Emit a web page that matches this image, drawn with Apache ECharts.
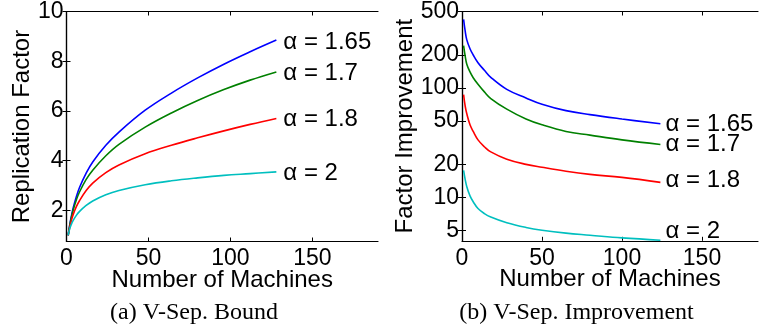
<!DOCTYPE html>
<html><head><meta charset="utf-8">
<script src="https://cdn.jsdelivr.net/npm/echarts@6/dist/echarts.min.js"></script>
<style>html,body{margin:0;padding:0;background:#fff}#c{width:759px;height:332px}</style>
</head><body><div id="c"></div>
<script>
// ---- data ----
const machinesA = [1, 2, 3, 4, 6, 8, 12, 16, 24, 32, 48, 64, 80, 96, 112, 128];
const repAlpha165 = [1.0, 1.43, 1.78, 2.08, 2.55, 2.93, 3.5, 3.95, 4.62, 5.15, 6.03, 6.72, 7.33, 7.88, 8.38, 8.85];
const repAlpha17  = [1.0, 1.4, 1.72, 2.0, 2.42, 2.75, 3.25, 3.62, 4.2, 4.66, 5.35, 5.92, 6.42, 6.86, 7.24, 7.57];
const repAlpha18  = [1.0, 1.33, 1.6, 1.82, 2.15, 2.4, 2.8, 3.1, 3.52, 3.83, 4.28, 4.62, 4.92, 5.2, 5.46, 5.70];
const repAlpha2   = [1.0, 1.27, 1.45, 1.59, 1.8, 1.96, 2.2, 2.38, 2.63, 2.8, 3.03, 3.19, 3.31, 3.41, 3.48, 3.55];

const machinesB = [1, 2, 3, 5, 7, 10, 14, 18, 28, 40, 50, 65, 80, 100, 124];
const impAlpha165 = [424, 330, 275, 228, 200, 170, 145, 125, 97, 81, 71, 62, 57, 52, 47];
const impAlpha17  = [244, 195, 165, 140, 124, 108, 92, 80, 64, 52, 46, 40, 37, 33.5, 30.4];
const impAlpha18  = [87, 68, 58, 46, 40, 33.5, 29, 26, 22.3, 20, 18.8, 17.3, 16.2, 15.2, 13.7];
const impAlpha2   = [17.6, 14.5, 12.5, 10.3, 9.1, 7.9, 7.1, 6.6, 5.85, 5.3, 5.0, 4.7, 4.5, 4.25, 4.05];

const alphaLabels = ['α = 1.65', 'α = 1.7', 'α = 1.8', 'α = 2'];
const xTickValues = [0, 50, 100, 150];
const yTicksA = [2, 4, 6, 8, 10];
const yTicksB = [5, 10, 20, 50, 100, 200, 500];
const xName = 'Number of Machines';
const yNameA = 'Replication Factor';
const yNameB = 'Factor Improvement';
const captions = ['(a) V-Sep. Bound', '(b) V-Sep. Improvement'];

// ---- chart ----
const colors = ['#0000ff', '#008000', '#ff0000', '#00bfbf'];
const SANS = 'Liberation Sans, Arial, sans-serif';
const SERIF = 'Liberation Serif, Times New Roman, serif';
const zip = (xs, ys) => xs.map((x, i) => [x, ys[i]]);

const lineAxis = {show: true, lineStyle: {color: '#000', width: 1.2}};
function xAx(grid, max, pos, labels) {
  return {
    type: 'value', gridIndex: grid, position: pos, min: 0, max: max,
    axisLine: lineAxis,
    axisTick: {show: true, inside: true, length: 4, customValues: xTickValues, lineStyle: {color: '#000', width: 1}},
    axisLabel: {show: labels, customValues: xTickValues, color: '#000', fontSize: 23, fontFamily: SANS, margin: 6},
    splitLine: {show: false},
    name: labels ? xName : '', nameLocation: 'middle', nameGap: 27, nameMoveOverlap: false,
    nameTextStyle: {color: '#000', fontSize: 24, fontFamily: SANS}
  };
}
function yAx(grid, type, min, max, ticks, pos, labels, name, gap) {
  return {
    type: type, gridIndex: grid, position: pos, min: min, max: max,
    axisLine: lineAxis,
    axisTick: {show: true, inside: true, length: 4, customValues: ticks, lineStyle: {color: '#000', width: 1}},
    axisLabel: {show: labels, customValues: ticks, color: '#000', fontSize: 23, fontFamily: SANS, margin: 3},
    splitLine: {show: false},
    name: labels ? name : '', nameLocation: 'middle', nameGap: gap, nameMoveOverlap: false,
    nameTextStyle: {color: '#000', fontSize: 24, fontFamily: SANS}
  };
}

const seriesA = [repAlpha165, repAlpha17, repAlpha18, repAlpha2];
const seriesB = [impAlpha165, impAlpha17, impAlpha18, impAlpha2];
const offA = [[0, 2], [0, 1], [0, 1], [0, 1]];
const offB = [[0, 1], [0, 0], [0, -2], [0, -9]];

const series = [];
seriesA.forEach((ys, i) => series.push({
  type: 'line', xAxisIndex: 0, yAxisIndex: 0, data: zip(machinesA, ys),
  smooth: 0.4, showSymbol: false, symbol: 'none',
  lineStyle: {color: colors[i], width: 1.6}, itemStyle: {color: colors[i]},
  endLabel: {show: true, formatter: alphaLabels[i], color: '#000', fontSize: 24, fontFamily: SANS, distance: 7, offset: offA[i]},
  animation: false
}));
seriesB.forEach((ys, i) => series.push({
  type: 'line', xAxisIndex: 2, yAxisIndex: 2, data: zip(machinesB, ys),
  smooth: 0.4, showSymbol: false, symbol: 'none',
  lineStyle: {color: colors[i], width: 1.6}, itemStyle: {color: colors[i]},
  endLabel: {show: true, formatter: alphaLabels[i], color: '#000', fontSize: 24, fontFamily: SANS, distance: 5, offset: offB[i]},
  animation: false
}));

const chart = echarts.init(document.getElementById('c'), null, {renderer: 'canvas'});
chart.setOption({
  animation: false,
  backgroundColor: '#fff',
  grid: [
    {left: 66.5, top: 7.5, width: 311.5, height: 234},
    {left: 462, top: 7.3, width: 296, height: 233.5}
  ],
  xAxis: [
    xAx(0, 190, 'bottom', true), xAx(0, 190, 'top', false),
    xAx(1, 185, 'bottom', true), xAx(1, 185, 'top', false)
  ],
  yAxis: [
    yAx(0, 'value', 0.75, 10, yTicksA, 'left', true, yNameA, 32),
    yAx(0, 'value', 0.75, 10, yTicksA, 'right', false, '', 0),
    yAx(1, 'log', 4, 500, yTicksB, 'left', true, yNameB, 45),
    yAx(1, 'log', 4, 500, yTicksB, 'right', false, '', 0)
  ],
  series: series,
  graphic: [
    {type: 'text', x: 194, y: 313, style: {text: captions[0], x: 0, y: 0, align: 'center', verticalAlign: 'middle', font: '24px ' + SERIF, fill: '#000'}},
    {type: 'text', x: 576.5, y: 313, style: {text: captions[1], x: 0, y: 0, align: 'center', verticalAlign: 'middle', font: '24px ' + SERIF, fill: '#000'}}
  ]
});
</script>
</body></html>
